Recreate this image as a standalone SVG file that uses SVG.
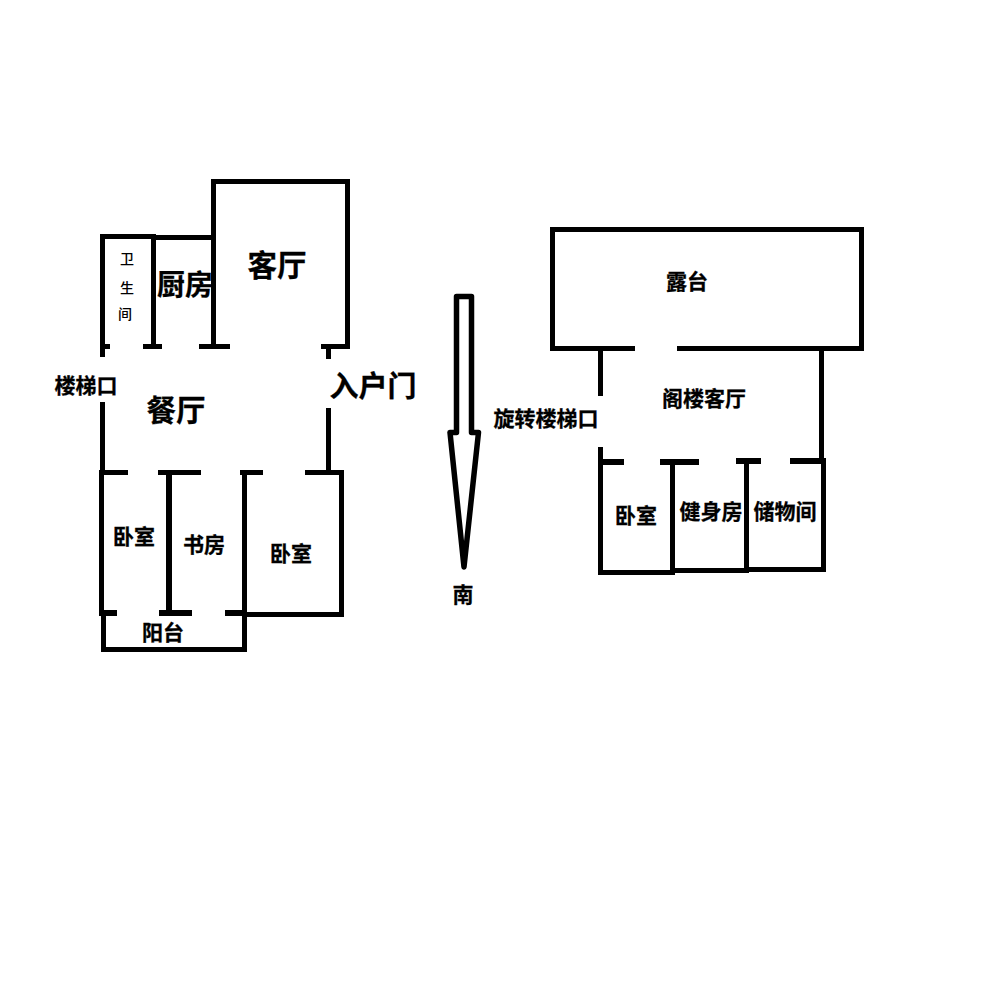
<svg xmlns="http://www.w3.org/2000/svg" width="992" height="986" viewBox="0 0 992 986">
<style>
rect.w{fill:#000}
text{font-family:"Noto Sans CJK SC","Liberation Sans",sans-serif;font-weight:700;fill:#000;stroke:#000;stroke-width:.3px}
.f21{font-size:21px}.f29{font-size:29px}.f30{font-size:29.500px}.f28{font-size:28px}.f14{font-size:14px;font-weight:500;stroke-width:0}
</style>
<rect width="992" height="986" fill="#fff"/>
<g id="walls-left">
<rect class="w" x="211" y="179" width="139" height="5"/>
<rect class="w" x="211" y="179" width="5" height="170"/>
<rect class="w" x="345" y="179" width="5" height="170"/>
<rect class="w" x="100" y="234" width="56" height="5"/>
<rect class="w" x="151" y="235" width="65" height="5"/>
<rect class="w" x="100" y="234" width="5" height="123"/>
<rect class="w" x="151" y="234" width="5" height="115"/>
<rect class="w" x="100" y="344" width="10" height="5"/>
<rect class="w" x="143" y="344" width="19" height="5"/>
<rect class="w" x="199" y="344" width="31" height="5"/>
<rect class="w" x="321" y="344" width="29" height="5"/>
<rect class="w" x="326" y="349" width="5" height="10"/>
<rect class="w" x="100" y="402" width="5" height="70"/>
<rect class="w" x="326" y="408" width="5" height="64"/>
<rect class="w" x="99" y="470" width="29" height="5"/>
<rect class="w" x="158" y="470" width="43" height="5"/>
<rect class="w" x="240" y="470" width="23" height="5"/>
<rect class="w" x="305" y="470" width="39" height="5"/>
<rect class="w" x="99" y="470" width="5" height="146"/>
<rect class="w" x="166" y="470" width="6" height="146"/>
<rect class="w" x="242" y="470" width="5" height="182"/>
<rect class="w" x="339" y="470" width="5" height="147"/>
<rect class="w" x="243" y="612" width="101" height="5"/>
<rect class="w" x="99" y="610" width="18" height="6"/>
<rect class="w" x="159" y="610" width="33" height="6"/>
<rect class="w" x="225" y="610" width="22" height="6"/>
<rect class="w" x="101" y="612" width="5" height="40"/>
<rect class="w" x="101" y="647" width="146" height="5"/>
</g>
<g id="walls-right">
<rect class="w" x="550" y="227" width="314" height="5"/>
<rect class="w" x="550" y="227" width="5" height="124"/>
<rect class="w" x="859" y="227" width="5" height="124"/>
<rect class="w" x="550" y="346" width="85" height="5"/>
<rect class="w" x="677" y="346" width="187" height="5"/>
<rect class="w" x="598" y="351" width="5" height="45"/>
<rect class="w" x="598" y="447" width="5" height="128"/>
<rect class="w" x="819" y="351" width="5" height="108"/>
<rect class="w" x="598" y="459" width="26" height="6"/>
<rect class="w" x="660" y="459" width="39" height="6"/>
<rect class="w" x="736" y="458" width="25" height="6"/>
<rect class="w" x="790" y="458" width="36" height="6"/>
<rect class="w" x="670" y="459" width="5" height="116"/>
<rect class="w" x="744" y="458" width="5" height="115"/>
<rect class="w" x="821" y="458" width="5" height="114"/>
<rect class="w" x="598" y="570" width="77" height="5"/>
<rect class="w" x="670" y="568" width="79" height="5"/>
<rect class="w" x="744" y="567" width="82" height="5"/>
</g>
<g id="arrow">
<path d="M456.500 432.500V296.500H471.500V432.500H478.500L464 567L450 432.500Z" fill="none" stroke="#000" stroke-width="5.500" stroke-linejoin="round"/>
</g>
<g id="labels">
<text class="f30" x="277" y="276" text-anchor="middle">客厅</text>
<text class="f28" x="185" y="295" text-anchor="middle">厨房</text>
<text class="f14" x="127" y="264" text-anchor="middle">卫</text>
<text class="f14" x="127" y="293" text-anchor="middle">生</text>
<text class="f14" x="125" y="319" text-anchor="middle">间</text>
<text class="f21" x="86" y="393" text-anchor="middle">楼梯口</text>
<text class="f30" x="176" y="421" text-anchor="middle">餐厅</text>
<text class="f29" x="373" y="397" text-anchor="middle">入户门</text>
<text class="f21" x="134" y="544" text-anchor="middle">卧室</text>
<text class="f21" x="204" y="552" text-anchor="middle">书房</text>
<text class="f21" x="291" y="561" text-anchor="middle">卧室</text>
<text class="f21" x="163" y="640" text-anchor="middle">阳台</text>
<text class="f21" x="463" y="602" text-anchor="middle">南</text>
<text class="f21" x="687" y="289" text-anchor="middle">露台</text>
<text class="f21" x="704" y="406" text-anchor="middle">阁楼客厅</text>
<text class="f21" x="546" y="426" text-anchor="middle">旋转楼梯口</text>
<text class="f21" x="636" y="523" text-anchor="middle">卧室</text>
<text class="f21" x="711" y="519" text-anchor="middle">健身房</text>
<text class="f21" x="785" y="519" text-anchor="middle">储物间</text>
</g>
</svg>
